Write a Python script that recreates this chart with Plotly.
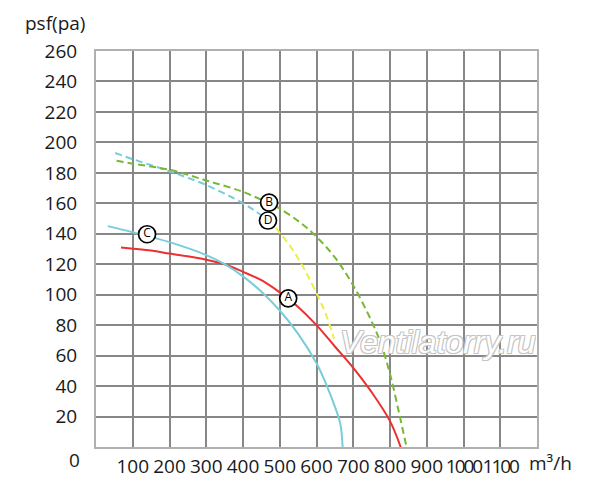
import plotly.graph_objects as go

# Curve A (red, solid)
a_x = [68, 150, 200, 300, 350, 400, 450, 500, 550, 600, 650, 700, 750, 800, 829]
a_y = [131, 129, 127, 123, 120, 115, 109.5, 101.5, 92, 80, 66, 52, 36, 17, 0]

# Curve C (cyan, solid)
c_x = [32, 100, 200, 300, 350, 400, 450, 500, 550, 600, 625, 650, 665, 671]
c_y = [145, 141, 134.5, 126, 120, 112, 102, 89.6, 74.3, 55, 42, 26.5, 15, 0]

# Curve B (green, dashed)
b_x = [56, 100, 200, 300, 400, 470, 500, 555, 600, 650, 700, 750, 775, 800, 825, 845]
b_y = [188, 186, 182, 175, 167.5, 160, 156.5, 147.5, 138, 124.5, 106, 82.5, 68, 48, 22, 0]

# Curve D (cyan dashed upper part, yellow dashed lower part)
d1_x = [52, 100, 200, 300, 400, 442, 468]
d1_y = [193, 189, 181, 172, 160, 153.5, 149]
d2_x = [468, 492, 528, 564, 600, 625, 648]
d2_y = [149, 143, 132, 118, 101, 87.5, 71]

# Curve labels (circled letters)
lab_text = ["A", "B", "C", "D"]
lab_x = [523, 471, 139, 468]
lab_y = [97.6, 160.5, 139.7, 148.7]

x_ticks = [100, 200, 300, 400, 500, 600, 700, 800, 900, 1000, 1100]
y_ticks = [20, 40, 60, 80, 100, 120, 140, 160, 180, 200, 220, 240, 260]

RED = "#ec2f2f"
CYAN = "#78cdd9"
GREEN = "#78b836"
YELLOW = "#eded48"
FONT = "Open Sans"
TXT = "#1a1a1a"


def xlabel(v):
    s = str(v)
    if v >= 1000:
        return '<span style="letter-spacing:-2px">' + s + '</span>'
    return s


fig = go.Figure()
fig.add_trace(go.Scatter(x=a_x, y=a_y, mode="lines", line=dict(color=RED, width=2, shape="spline")))
fig.add_trace(go.Scatter(x=c_x, y=c_y, mode="lines", line=dict(color=CYAN, width=2, shape="spline")))
fig.add_trace(go.Scatter(x=d1_x, y=d1_y, mode="lines", line=dict(color=CYAN, width=2, dash="7px,4px", shape="spline")))
fig.add_trace(go.Scatter(x=d2_x, y=d2_y, mode="lines", line=dict(color=YELLOW, width=2, dash="7px,4px", shape="spline")))
fig.add_trace(go.Scatter(x=b_x, y=b_y, mode="lines", line=dict(color=GREEN, width=2, dash="7px,4px", shape="spline")))
fig.add_trace(go.Scatter(
    x=lab_x, y=lab_y, mode="markers+text", text=lab_text, textposition="middle center",
    textfont=dict(family=FONT, size=12, color="black"),
    marker=dict(size=17, color="white", line=dict(color="black", width=1.7)),
))

fig.update_layout(
    width=600, height=489,
    margin=dict(l=88, r=71, t=43, b=50),
    paper_bgcolor="white", plot_bgcolor="white",
    showlegend=False,
    font=dict(family=FONT, size=19, color=TXT),
    xaxis=dict(range=[0, 1200], tickvals=x_ticks, ticktext=[xlabel(v) for v in x_ticks],
               tickangle=0, showgrid=True, gridcolor="#878787", gridwidth=1.5,
               showline=True, linecolor="#b0b0b0", linewidth=2, mirror=True,
               zeroline=False, ticks="", ticklabelstandoff=1,
               tickfont=dict(family=FONT, size=19, color=TXT)),
    yaxis=dict(range=[0, 260], tickvals=y_ticks, ticktext=[str(v) for v in y_ticks],
               showgrid=True, gridcolor="#878787", gridwidth=1.5,
               showline=True, linecolor="#b0b0b0", linewidth=2, mirror=True,
               zeroline=False, ticks="", ticklabelstandoff=13,
               tickfont=dict(family=FONT, size=19, color=TXT)),
    annotations=[
        dict(text="psf(pa)", xref="paper", yref="paper", x=-0.165, y=1.07, xanchor="left",
             yanchor="middle", showarrow=False, font=dict(family=FONT, size=19, color=TXT)),
        dict(text="0", xref="paper", yref="y", x=-0.048, y=0, xanchor="center", yanchor="middle",
             yshift=-13, showarrow=False, font=dict(family=FONT, size=19, color=TXT)),
        dict(text="m³/h", xref="paper", yref="y", x=1.031, y=0, xanchor="center", yanchor="middle",
             yshift=-16, showarrow=False, font=dict(family=FONT, size=19, color=TXT)),
        dict(text="Ventilatorry.ru", xref="x", yref="y", x=930, y=68.7, xanchor="center",
             yanchor="middle", showarrow=False,
             font=dict(family="Liberation Sans", size=32, color="white", style="italic",
                       shadow="1px 1px 0 #c4c4c4, -1px -1px 0 #c4c4c4, 1px -1px 0 #c4c4c4, -1px 1px 0 #c4c4c4")),
    ],
)

fig.write_html("out.html")
